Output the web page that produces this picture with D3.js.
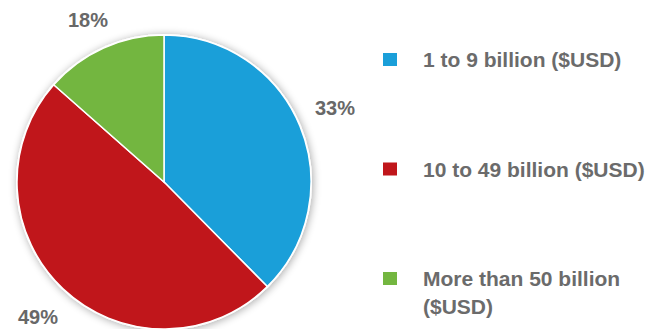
<!DOCTYPE html>
<html>
<head>
<meta charset="utf-8">
<script src="https://cdnjs.cloudflare.com/ajax/libs/d3/7.8.5/d3.min.js"></script>
<style>
  body { margin: 0; background: #fff; }
  text { font-family: "Liberation Sans", Arial, sans-serif; font-weight: bold; }
</style>
</head>
<body>
<script>
// data
var categories = ["1 to 9 billion ($USD)", "10 to 49 billion ($USD)", "More than 50 billion ($USD)"];
var sliceValues = [37.6, 48.9, 13.5];      // slice sizes as drawn
var pctLabels = ["33%", "49%", "18%"];      // labels as printed
var legendLines = [["1 to 9 billion ($USD)"], ["10 to 49 billion ($USD)"], ["More than 50 billion", "($USD)"]];

var width = 651, height = 329;
var cx = 164, cy = 182, radius = 147;

var color = d3.scaleOrdinal()
    .domain(categories)
    .range(["#1a9fd9", "#c0161b", "#73b640"]);

var data = categories.map(function(c, i) {
  return {category: c, value: sliceValues[i], label: pctLabels[i]};
});

var svg = d3.select("body").append("svg")
    .attr("width", width)
    .attr("height", height);

// soft shadow round the pie
var defs = svg.append("defs");
var f = defs.append("filter").attr("id", "shadow")
    .attr("x", "-20%").attr("y", "-20%").attr("width", "140%").attr("height", "140%");
f.append("feGaussianBlur").attr("in", "SourceAlpha").attr("stdDeviation", 4);
f.append("feOffset").attr("dx", 1).attr("dy", 1).attr("result", "b");
f.append("feComponentTransfer").append("feFuncA").attr("type", "linear").attr("slope", 0.35);
var m = f.append("feMerge");
m.append("feMergeNode");
m.append("feMergeNode").attr("in", "SourceGraphic");

var pie = d3.pie()
    .sort(null)
    .value(function(d) { return d.value; });

var arc = d3.arc()
    .outerRadius(radius)
    .innerRadius(0);

var g = svg.append("g")
    .attr("transform", "translate(" + cx + "," + cy + ")");

g.append("circle")
    .attr("r", radius + 1)
    .attr("fill", "#fff")
    .attr("filter", "url(#shadow)");

g.selectAll(".arc")
    .data(pie(data))
  .enter().append("path")
    .attr("class", "arc")
    .attr("d", arc)
    .style("fill", function(d) { return color(d.data.category); })
    .style("stroke", "#fff")
    .style("stroke-width", 1.5);

// percentage labels outside the pie
var labelPos = [[335, 108], [38, 317], [88, 20]];
svg.selectAll(".pct")
    .data(data)
  .enter().append("text")
    .attr("class", "pct")
    .attr("x", function(d, i) { return labelPos[i][0]; })
    .attr("y", function(d, i) { return labelPos[i][1]; })
    .attr("dy", "0.35em")
    .attr("text-anchor", "middle")
    .style("font-size", "20px")
    .style("fill", "#686868")
    .text(function(d) { return d.label; });

// legend
var legendY = d3.scalePoint().domain(categories).range([60, 279]);
var lg = svg.selectAll(".legend")
    .data(data)
  .enter().append("g")
    .attr("class", "legend")
    .attr("transform", function(d) { return "translate(383," + legendY(d.category) + ")"; });

lg.append("rect")
    .attr("x", 0).attr("y", -7)
    .attr("width", 14).attr("height", 13)
    .style("fill", function(d) { return color(d.category); });

lg.append("text")
    .style("font-size", "21px")
    .style("fill", "#6b6b6b")
    .selectAll("tspan")
    .data(function(d, i) { return legendLines[i]; })
  .enter().append("tspan")
    .attr("x", 40)
    .attr("y", function(d, j) { return 7 + j * 28; })
    .text(function(d) { return d; });
</script>
</body>
</html>
